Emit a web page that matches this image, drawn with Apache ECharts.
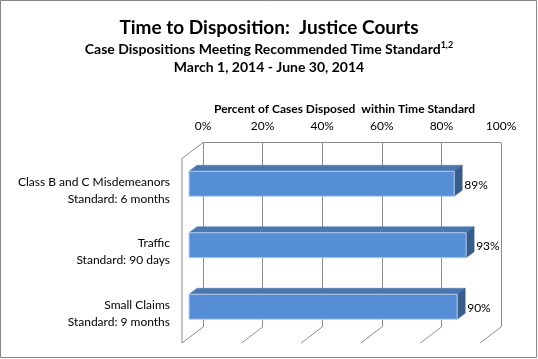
<!DOCTYPE html>
<html><head><meta charset="utf-8">
<script src="https://cdn.jsdelivr.net/npm/echarts@6/dist/echarts.min.js"></script>
<style>html,body{margin:0;padding:0;background:#fff}#c{width:538px;height:359px}</style>
</head><body><div id="c"></div>
<script>
const categories = ['Class B and C Misdemeanors\nStandard: 6 months', 'Traffic\nStandard: 90 days', 'Small Claims\nStandard: 9 months'];
const percentDisposed = [89, 93, 90];
const tickValues = [0, 20, 40, 60, 80, 100];
const titleText = 'Time to Disposition:  Justice Courts';
const subtitleText = 'Case Dispositions Meeting Recommended Time Standard';
const dateText = 'March 1, 2014 - June 30, 2014';
const axisTitle = 'Percent of Cases Disposed  within Time Standard';

const FONT = 'Lato';
const DX = -21, DY = 16;      // depth of floor (front plane offset)
const BX = -14, BY = 10.5;    // bar front-face offset from back plane
const BD = 8, BDY = -6;       // bar depth
const BH = 25;                // bar thickness
const FRAME = '#8c8c8c';

const chart = echarts.init(document.getElementById('c'), null, {renderer: 'canvas'});

function frameItem(params, api) {
  const cs = params.coordSys;
  const v = api.value(0);
  const p = api.coord([v, 0]);
  const x = p[0];
  const bottom = cs.y + cs.height;
  const st = {stroke: FRAME, lineWidth: 1};
  const children = [{type: 'line', shape: {x1: x, y1: bottom, x2: x + DX, y2: bottom + DY}, style: st}];
  if (params.dataIndex === 0) {
    children.push({type: 'line', shape: {x1: x, y1: cs.y, x2: x + DX, y2: cs.y + DY}, style: st});
    children.push({type: 'line', shape: {x1: x + DX, y1: cs.y + DY, x2: x + DX, y2: bottom + DY}, style: st});
    children.push({type: 'line', shape: {x1: cs.x, y1: cs.y, x2: cs.x + cs.width, y2: cs.y}, style: st});
  }
  return {type: 'group', children};
}

function barItem(params, api) {
  const v = api.value(0);
  const cat = api.value(1);
  const p0 = api.coord([0, cat]);
  const p1 = api.coord([v, cat]);
  const xl = p0[0] + BX, xr = p1[0] + BX;
  const yc = p1[1] + BY;
  const yt = yc - BH / 2, yb = yc + BH / 2;
  return {type: 'group', children: [
    {type: 'polygon', shape: {points: [[xl, yt], [xr, yt], [xr + BD, yt + BDY], [xl + BD, yt + BDY]]},
      style: {fill: '#4a77b0', stroke: '#4a77b0', lineWidth: 0.5}},
    {type: 'polygon', shape: {points: [[xr, yt], [xr + BD, yt + BDY], [xr + BD, yb + BDY], [xr, yb]]},
      style: {fill: '#385d8a', stroke: '#385d8a', lineWidth: 0.5}},
    {type: 'rect', shape: {x: xl, y: yt, width: xr - xl, height: BH},
      style: {fill: '#558ed5', stroke: '#b9cde8', lineWidth: 1}},
    {type: 'text', style: {text: v + '%', x: xr + BD + 2, y: yc + 1, verticalAlign: 'middle', align: 'left',
      fill: '#000', font: '12px ' + FONT}}
  ]};
}

chart.setOption({
  animation: false,
  title: [
    {text: titleText, left: 'center', top: 13, textStyle: {fontFamily: FONT, fontWeight: 'bold', fontSize: 19, color: '#000'}},
    {text: subtitleText + '{sup|1,2}', left: 'center', top: 36, textStyle: {fontFamily: FONT, fontWeight: 'bold', fontSize: 14, color: '#000',
      rich: {sup: {fontSize: 9, fontWeight: 'bold', fontFamily: FONT, verticalAlign: 'top', padding: [0, 0, 8, 0]}}}},
    {text: dateText, left: 'center', top: 55, textStyle: {fontFamily: FONT, fontWeight: 'bold', fontSize: 14, color: '#000'}},
    {text: axisTitle, left: 209, top: 98, textStyle: {fontFamily: FONT, fontWeight: 'bold', fontSize: 12, color: '#000'}}
  ],
  graphic: [{type: 'rect', shape: {x: 0.5, y: 0.5, width: 536, height: 357}, style: {fill: 'none', stroke: '#868686', lineWidth: 1}, z: 100}],
  grid: {left: 203, right: 37, top: 142.5, bottom: 32},
  xAxis: {
    type: 'value', position: 'top', min: 0, max: 100, interval: 20,
    axisLine: {show: false}, axisTick: {show: false},
    axisLabel: {formatter: '{value}%', fontFamily: FONT, fontSize: 12, color: '#000', margin: 10},
    splitLine: {show: true, lineStyle: {color: FRAME, width: 1}}
  },
  yAxis: {
    type: 'category', data: categories, inverse: true,
    axisLine: {show: false}, axisTick: {show: false}, splitLine: {show: false},
    axisLabel: {interval: 0, fontFamily: FONT, fontSize: 12, color: '#000', margin: 33, lineHeight: 17, align: 'right', verticalAlign: 'top'}
  },
  series: [
    {type: 'custom', renderItem: frameItem, data: tickValues.map(v => [v]), encode: {x: 0}, silent: true, z: 1},
    {type: 'custom', renderItem: barItem, data: percentDisposed.map((v, i) => [v, i]), encode: {x: 0, y: 1}, z: 5}
  ]
});
</script></body></html>
